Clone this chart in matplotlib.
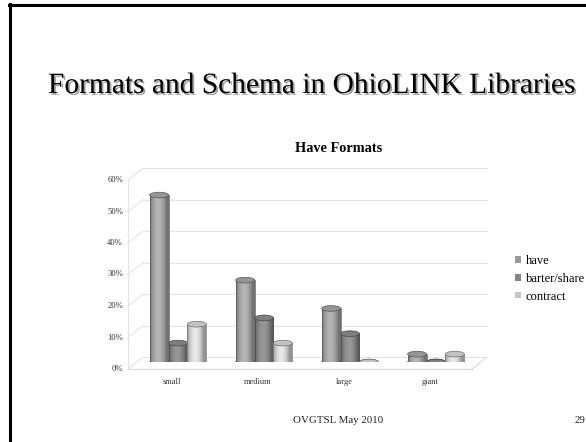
import numpy as np
import matplotlib
matplotlib.use("Agg")
import matplotlib.pyplot as plt
from matplotlib.patches import Ellipse, Patch
from matplotlib.transforms import ScaledTranslation
import matplotlib.patheffects as pe
from matplotlib.lines import Line2D

# ---- data ----
categories = ["small", "medium", "large", "giant"]
series_names = ["have", "barter/share", "contract"]
have = [53, 26, 17, 2.5]
barter_share = [6, 14, 9, 0]
contract = [12, 6, 0, 2.5]
ytick_values = [0, 10, 20, 30, 40, 50, 60]
ytick_labels = ["0%", "10%", "20%", "30%", "40%", "50%", "60%"]

title = "Formats and Schema in OhioLINK Libraries"
chart_title = "Have Formats"
footer = "OVGTSL May 2010"
page = "29"

W, H = 586, 442
fig = plt.figure(figsize=(W / 100, H / 100), dpi=100)
fig.patch.set_facecolor("white")
serif = ["Liberation Serif", "DejaVu Serif"]

def fx(x):
    return x / W

def fy(y):
    return 1 - y / H

# slide border (top and left)
fig.add_artist(Line2D([fx(10), fx(10)], [fy(4), fy(442)], color="black", lw=2.2))
fig.add_artist(Line2D([fx(9), fx(586)], [fy(5), fy(5)], color="black", lw=2.2))

# slide title with shadow
fig.text(fx(48), fy(93), title, ha="left", va="baseline", fontsize=21.2,
         family=serif, color="black",
         path_effects=[pe.withSimplePatchShadow(offset=(1.3, -1.3), shadow_rgbFace="#555555", alpha=0.55)])

# chart title
fig.text(fx(295), fy(152), chart_title, ha="left", va="baseline", fontsize=10.3,
         family=serif, fontweight="bold")

# footer
fig.text(fx(293), fy(423), footer, ha="left", va="baseline", fontsize=7.8, family=serif, color="#222222")
fig.text(fx(580), fy(423), page, ha="center", va="baseline", fontsize=7.8, family=serif, color="#222222")

# axes: y=0 at image y 362, 10% = 31.5 px
left, right = 135, 479
y0, ytop = 362, 362 - 189
ax = fig.add_axes([fx(left), fy(y0), (right - left) / W, (y0 - ytop) / H])
ax.set_xlim(-0.5, 3.5)
ax.set_ylim(0, 60)
ax.axis("off")

front = ax.transData + ScaledTranslation(-7 / 100, -7 / 100, fig.dpi_scale_trans)
back = ax.transData + ScaledTranslation(8 / 100, 5 / 100, fig.dpi_scale_trans)
gc = "#e4e4e4"

# back wall gridlines
for v in ytick_values:
    ax.plot([-0.5, 3.5], [v, v], color=gc, lw=0.8, transform=back, clip_on=False, zorder=0)
# side wall diagonals
for v in ytick_values:
    p0 = front.transform((-0.5, v))
    p1 = back.transform((-0.5, v))
    fig.add_artist(Line2D([p0[0] / W, p1[0] / W], [p0[1] / H, p1[1] / H], color=gc, lw=0.8, zorder=0))
# front vertical axis
ax.plot([-0.5, -0.5], [0, 60], color=gc, lw=0.8, transform=front, clip_on=False, zorder=0)
# floor front edge and right diagonal
ax.plot([-0.5, 3.5], [0, 0], color="#d8d8d8", lw=0.8, transform=front, clip_on=False, zorder=0)
p0 = front.transform((3.5, 0))
p1 = back.transform((3.5, 0))
fig.add_artist(Line2D([p0[0] / W, p1[0] / W], [p0[1] / H, p1[1] / H], color="#d8d8d8", lw=0.8, zorder=0))

# tick labels (front axis)
lab_off = front + ScaledTranslation(-5 / 100, 0, fig.dpi_scale_trans)
for v, lab in zip(ytick_values, ytick_labels):
    ax.text(-0.5, v, lab, transform=lab_off, ha="right", va="center", fontsize=6.2,
            family=serif, color="#333333", clip_on=False)

# category labels
cat_off = ax.transData + ScaledTranslation(-6 / 100, 0, fig.dpi_scale_trans)
x = np.arange(len(categories))
for xi, c in zip(x, categories):
    ax.text(xi, -6.3, c, transform=cat_off, ha="center", va="center", fontsize=6,
            family=serif, color="#333333", clip_on=False)

# cylinders
colors = [(0.62, 0.62, 0.62), (0.52, 0.52, 0.52), (0.80, 0.80, 0.80)]
legend_colors = ["#9a9a9a", "#858585", "#c4c4c4"]
series = [have, barter_share, contract]
w = 0.22
eh = 1.8  # ellipse height in data units (~5-6 px)
t = np.linspace(0, 1, 64)
shade = 0.72 + 0.42 * np.sin(np.pi * np.clip(t * 1.15, 0, 1)) ** 0.8

for si, (vals, col) in enumerate(zip(series, colors)):
    base = np.array(col)
    grad = np.clip(base[None, None, :] * shade[None, :, None], 0, 1)
    for xi, v in zip(x, vals):
        xc = xi + (si - 1) * w
        x0 = xc - w / 2
        z = 2 + si * 0.1
        edge = tuple(np.clip(base * 0.55, 0, 1))
        ax.add_patch(Ellipse((xc, 0), w, eh, facecolor=tuple(np.clip(base * 0.85, 0, 1)),
                             edgecolor=edge, lw=0.5, zorder=z))
        if v > 0:
            ax.imshow(grad, extent=[x0, x0 + w, 0, v], aspect="auto",
                      interpolation="bilinear", zorder=z + 0.01)
            ax.plot([x0, x0], [0, v], color=edge, lw=0.5, zorder=z + 0.02)
            ax.plot([x0 + w, x0 + w], [0, v], color=edge, lw=0.5, zorder=z + 0.02)
        ax.add_patch(Ellipse((xc, v), w, eh, facecolor=tuple(np.clip(base * 0.95, 0, 1)),
                             edgecolor=edge, lw=0.5, zorder=z + 0.03))

ax.set_xlim(-0.5, 3.5)
ax.set_ylim(0, 60)

# legend
handles = [Patch(facecolor=c, edgecolor="none") for c in legend_colors]
fig.legend(handles, series_names, loc="upper left", bbox_to_anchor=(fx(509), fy(249)),
           frameon=False, handlelength=0.45, handleheight=0.45,
           handletextpad=0.4, labelspacing=0.45, borderpad=0,
           prop={"family": serif, "size": 9})

fig.savefig("out.png", dpi=100, facecolor="white")
